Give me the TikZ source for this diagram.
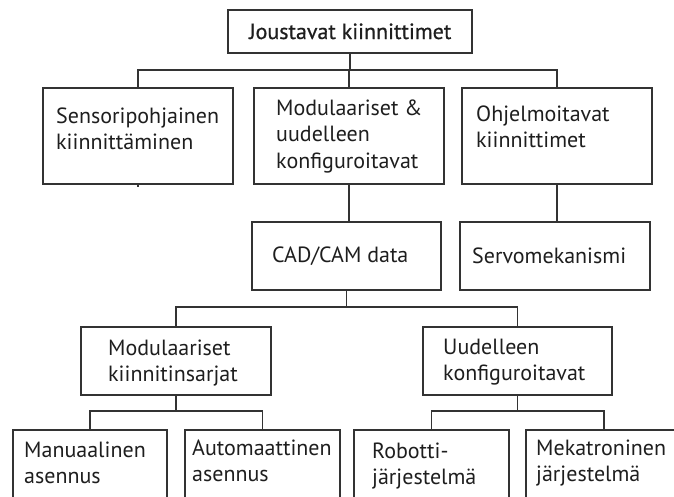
\documentclass[tikz,border=0pt]{standalone}
\usepackage{fontspec}
\setmainfont{PT Sans}
\newfontfamily\medfont[FakeBold=0.6]{PT Sans}
\definecolor{linec}{HTML}{333333}
\definecolor{textc}{HTML}{1E1E1E}
\newcommand{\lines}[1]{\begin{tabular}[t]{@{}l@{}}#1\end{tabular}}
\begin{document}
\begin{tikzpicture}[x=1pt,y=-1pt,
  box/.style={draw=linec,line width=1.6pt,rectangle,inner sep=0pt,outer sep=0pt},
  lbl/.style={anchor=base west,inner sep=0pt,text=textc,font=\fontsize{22}{26.5}\selectfont},
  conn/.style={draw=linec,line width=1.6pt}]
\useasboundingbox (0,0) rectangle (674,496);
\begin{scope}
\clip (0,0) rectangle (674,496);
% boxes
\node[box,minimum width=244pt,minimum height=43pt] (top) at (350,31.5) {};
\node[box,minimum width=190pt,minimum height=96pt] (sens) at (138,136) {};
\node[box,minimum width=190pt,minimum height=96pt] (mod) at (349,136) {};
\node[box,minimum width=190pt,minimum height=96pt] (ohj) at (557,136) {};
\node[box,minimum width=189pt,minimum height=68pt] (cad) at (346.5,256) {};
\node[box,minimum width=190pt,minimum height=68pt] (servo) at (555,256) {};
\node[box,minimum width=190pt,minimum height=68pt] (modk) at (176,361) {};
\node[box,minimum width=189pt,minimum height=68pt] (uud) at (517.5,361) {};
\node[box,minimum width=154pt,minimum height=90pt] (man) at (90,475) {};
\node[box,minimum width=155pt,minimum height=90pt] (auto) at (262.5,475) {};
\node[box,minimum width=155pt,minimum height=90pt] (rob) at (431.5,475) {};
\node[box,minimum width=156pt,minimum height=90pt] (mek) at (604,475) {};
% texts
\node[lbl,font=\medfont\fontsize{22}{26.5}\selectfont] (ttop) at (249,39) {Joustavat kiinnittimet};
\node[lbl] (tsens) at (56,123) {\lines{Sensoripohjainen\\kiinnittäminen}};
\node[lbl] (tmod) at (276,115) {\lines{Modulaariset \&\\uudelleen\\konfiguroitavat}};
\node[lbl] (tohj) at (476,121) {\lines{Ohjelmoitavat\\kiinnittimet}};
\node[lbl] (tcad) at (272,262) {CAD/CAM data};
\node[lbl] (tservo) at (472,263) {Servomekanismi};
\node[lbl] (tmodk) at (108,355) {\lines{Modulaariset\\kiinnitinsarjat}};
\node[lbl] (tuud) at (443,354) {\lines{Uudelleen\\konfiguroitavat}};
\node[lbl] (tman) at (24,457) {\lines{Manuaalinen\\asennus}};
\node[lbl] (tauto) at (192,455) {\lines{Automaattinen\\asennus}};
\node[lbl] (trob) at (372,458) {\lines{Robotti-\\järjestelmä}};
\node[lbl] (tmek) at (536,455) {\lines{Mekatroninen\\järjestelmä}};
% connectors
\draw[conn] (top.south) -- ++(0,17);
\draw[conn] (sens.north) -- ++(0,-18) -| (ohj.north);
\draw[conn] (mod.north) -- ++(0,-18);
\draw[conn] (sens.south) -- ++(0,3);
\draw[conn] (mod.south) -- (mod.south |- cad.north);
\draw[conn] (ohj.south) -- (ohj.south |- servo.north);
\draw[conn] (cad.south) -- ++(0,17);
\draw[conn] (modk.north) -- ++(0,-20) -| (uud.north);
\draw[conn] (modk.south) -- ++(0,16);
\draw[conn] (man.north) -- ++(0,-19) -| (auto.north);
\draw[conn] (uud.south) -- ++(0,16);
\draw[conn] (rob.north) -- ++(0,-19) -| (mek.north);
\end{scope}
\end{tikzpicture}
\end{document}
